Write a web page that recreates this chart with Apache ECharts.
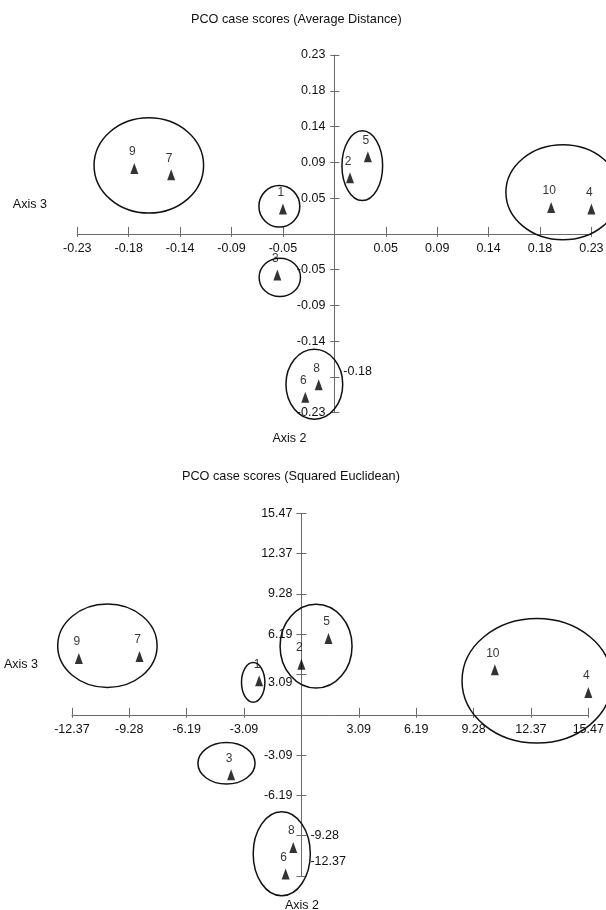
<!DOCTYPE html>
<html><head><meta charset="utf-8">
<script src="https://cdn.jsdelivr.net/npm/echarts@6/dist/echarts.min.js"></script>
<style>html,body{margin:0;padding:0;background:#fff}#c{width:606px;height:910px}</style>
</head><body><div id="c"></div>
<script>
// ---------- data ----------
const caseNames = ['1','2','3','4','5','6','7','8','9','10'];

// Panel 1: PCO case scores (Average Distance)
const avgAxis3 = [-0.046, 0.014, -0.051, 0.230, 0.030, -0.026, -0.146, -0.014, -0.179, 0.194]; // horizontal
const avgAxis2 = [0.032, 0.072, -0.053, 0.032, 0.099, -0.210, 0.076, -0.194, 0.084, 0.034];   // vertical
const avgTickLabels = ['-0.23','-0.18','-0.14','-0.09','-0.05','','0.05','0.09','0.14','0.18','0.23'];
// group outlines (centre x, centre y, half-width, half-height) in data units
const avgGroupCx = [-0.166, 0.025, -0.0492, 0.2045, -0.0488, -0.0179];
const avgGroupCy = [0.088, 0.0877, 0.0354, 0.0534, -0.056, -0.1933];
const avgGroupRx = [0.049, 0.0182, 0.0183, 0.051, 0.0185, 0.0254];
const avgGroupRy = [0.0613, 0.0448, 0.0267, 0.0611, 0.0247, 0.045];

// Panel 2: PCO case scores (Squared Euclidean)
const sqAxis3 = [-2.28, 0.00, -3.79, 15.47, 1.46, -0.85, -8.73, -0.44, -12.00, 10.43];
const sqAxis2 = [2.61, 3.89, -4.60, 1.72, 5.86, -12.23, 4.48, -10.18, 4.33, 3.45];
const sqTickLabels = ['-12.37','-9.28','-6.19','-3.09','','3.09','6.19','9.28','12.37','15.47'];
const sqGroupCx = [-10.46, 0.79, -2.60, 12.70, -4.04, -1.06];
const sqGroupCy = [5.30, 5.27, 2.49, 2.61, -3.72, -10.67];
const sqGroupRx = [2.68, 1.94, 0.63, 4.04, 1.54, 1.54];
const sqGroupRy = [3.20, 3.22, 1.53, 4.78, 1.60, 3.22];

// ---------- chart ----------
const FONT = '"Liberation Sans", Arial, Helvetica, sans-serif';
const TXT = { fontFamily: FONT, fontSize: 12.5, color: '#111' };
const AXC = '#6a6a6a';

const avgMin = -0.23, avgStep = 0.046, avgN = 10;
const sqMin = -12.3744, sqStep = 3.0936, sqN = 9;
const idxOf = (v, min, step) => Math.round((v - min) / step);
const zeroFrac = (min, step, n) => (0 - min) / (step * n);

const G0 = { left: 77.3, top: 55, width: 514.1, height: 357.7 };
const G1 = { left: 71.9, top: 513.3, width: 516.4, height: 362.7 };

const rich = {
  dn8: Object.assign({}, TXT, { padding: [16, 0, 0, 0] }),
  up5: Object.assign({}, TXT, { padding: [0, 0, 10, 0] }),
  up14: Object.assign({}, TXT, { padding: [0, 0, 28, 0] }),
  n: Object.assign({}, TXT)
};

function ellipseSeries(xi, yi, cx, cy, rx, ry) {
  return {
    type: 'custom', xAxisIndex: xi, yAxisIndex: yi, clip: false, silent: true, z: 5,
    data: cx.map((c, i) => [c, cy[i], rx[i], ry[i]]),
    renderItem: function (params, api) {
      const c = api.coord([api.value(0), api.value(1)]);
      const s = api.size([api.value(2), api.value(3)], [api.value(0), api.value(1)]);
      return { type: 'ellipse', shape: { cx: c[0], cy: c[1], rx: s[0], ry: s[1] },
               style: { fill: 'none', stroke: '#111', lineWidth: 1.5 } };
    }
  };
}
function pointSeries(xi, yi, xs, ys) {
  return {
    type: 'scatter', xAxisIndex: xi, yAxisIndex: yi, symbol: 'triangle', symbolSize: [8, 11],
    itemStyle: { color: '#000' }, z: 6, silent: true,
    data: caseNames.map((n, i) => ({ name: n, value: [xs[i], ys[i]] })),
    label: { show: true, position: 'top', distance: 5, offset: [-2, 0], formatter: '{b}',
             fontFamily: FONT, fontSize: 12, color: '#000', textBorderWidth: 0 }
  };
}
// horizontal axis carrying line, labels and short downward ticks
function hAxisMain(g, grid, min, step, n, yMin, yStep, yN, labels) {
  return {
    type: 'value', gridIndex: g, min: min, max: min + step * n, interval: step, position: 'bottom',
    offset: -grid.height * zeroFrac(yMin, yStep, yN),
    axisLine: { show: true, onZero: false, lineStyle: { color: AXC, width: 1 } },
    axisTick: { show: true, inside: false, length: 3, lineStyle: { color: AXC } },
    axisLabel: Object.assign({ margin: 8, hideOverlap: false, showMinLabel: true, showMaxLabel: true,
      formatter: v => labels[idxOf(v, min, step)] || '' }, TXT),
    splitLine: { show: false }
  };
}
// same horizontal axis, only the upward part of the ticks
function hAxisTicks(g, grid, min, step, n, yMin, yStep, yN) {
  return {
    type: 'value', gridIndex: g, min: min, max: min + step * n, interval: step, position: 'top',
    offset: -grid.height * (1 - zeroFrac(yMin, yStep, yN)),
    axisLine: { show: false, onZero: false },
    axisTick: { show: true, length: 7, lineStyle: { color: AXC } },
    axisLabel: { show: false }, splitLine: { show: false }
  };
}
function vAxis(g, grid, min, step, n, xMin, xStep, xN, side, fmt, tickLen) {
  const f = zeroFrac(xMin, xStep, xN);
  return {
    type: 'value', gridIndex: g, min: min, max: min + step * n, interval: step, position: side,
    offset: side === 'left' ? -grid.width * f : -grid.width * (1 - f),
    axisLine: { show: side === 'left', onZero: false, lineStyle: { color: AXC, width: 1 } },
    axisTick: { show: true, inside: false, length: tickLen, lineStyle: { color: AXC } },
    axisLabel: Object.assign({ margin: 9, hideOverlap: false, showMinLabel: true, showMaxLabel: true,
      formatter: fmt, rich: rich }, TXT),
    splitLine: { show: false }
  };
}

const avgLeftFmt = v => { const i = idxOf(v, avgMin, avgStep); return i === 1 ? '' : (avgTickLabels[i] || ''); };
const avgRightFmt = v => { const i = idxOf(v, avgMin, avgStep); return i === 1 ? '{up5|' + avgTickLabels[i] + '}' : ''; };
const sqLeftFmt = v => { const i = idxOf(v, sqMin, sqStep); if (i <= 1) return ''; const t = sqTickLabels[i] || ''; if (!t) return ''; return i === 5 ? '{dn8|' + t + '}' : '{n|' + t + '}'; };
const sqRightFmt = v => { const i = idxOf(v, sqMin, sqStep); if (i === 0) return '{up14|' + sqTickLabels[0] + '}'; if (i === 1) return '{n|' + sqTickLabels[1] + '}'; return ''; };

const TTL = { fontFamily: FONT, fontSize: 12.7, fontWeight: 'normal', color: '#111' };
const NAME = { fontFamily: FONT, fontSize: 12.5, fontWeight: 'normal', color: '#111' };

const option = {
  animation: false,
  backgroundColor: '#fff',
  title: [
    { text: 'PCO case scores (Average Distance)', left: 191, top: 12.5, padding: 0, textStyle: TTL },
    { text: 'PCO case scores (Squared Euclidean)', left: 182, top: 470, padding: 0, textStyle: TTL },
    { text: 'Axis 3', left: 12.8, top: 198.5, padding: 0, textStyle: NAME },
    { text: 'Axis 2', left: 272.5, top: 432.5, padding: 0, textStyle: NAME },
    { text: 'Axis 3', left: 3.9, top: 658.5, padding: 0, textStyle: NAME },
    { text: 'Axis 2', left: 285, top: 899, padding: 0, textStyle: NAME }
  ],
  grid: [
    Object.assign({ containLabel: false, outerBoundsMode: 'none' }, G0),
    Object.assign({ containLabel: false, outerBoundsMode: 'none' }, G1)
  ],
  xAxis: [
    hAxisMain(0, G0, avgMin, avgStep, avgN, avgMin, avgStep, avgN, avgTickLabels),
    hAxisTicks(0, G0, avgMin, avgStep, avgN, avgMin, avgStep, avgN),
    hAxisMain(1, G1, sqMin, sqStep, sqN, sqMin, sqStep, sqN, sqTickLabels),
    hAxisTicks(1, G1, sqMin, sqStep, sqN, sqMin, sqStep, sqN)
  ],
  yAxis: [
    vAxis(0, G0, avgMin, avgStep, avgN, avgMin, avgStep, avgN, 'left', avgLeftFmt, 4),
    vAxis(0, G0, avgMin, avgStep, avgN, avgMin, avgStep, avgN, 'right', avgRightFmt, 5),
    vAxis(1, G1, sqMin, sqStep, sqN, sqMin, sqStep, sqN, 'left', sqLeftFmt, 5),
    vAxis(1, G1, sqMin, sqStep, sqN, sqMin, sqStep, sqN, 'right', sqRightFmt, 5)
  ],
  series: [
    ellipseSeries(0, 0, avgGroupCx, avgGroupCy, avgGroupRx, avgGroupRy),
    pointSeries(0, 0, avgAxis3, avgAxis2),
    ellipseSeries(2, 2, sqGroupCx, sqGroupCy, sqGroupRx, sqGroupRy),
    pointSeries(2, 2, sqAxis3, sqAxis2)
  ]
};
const chart = echarts.init(document.getElementById('c'), null, { renderer: 'canvas' });
chart.setOption(option);
</script></body></html>
